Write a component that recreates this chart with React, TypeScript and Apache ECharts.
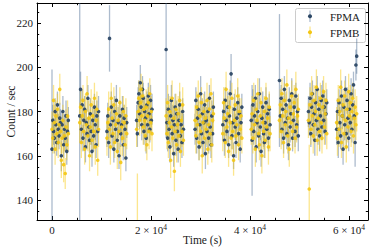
import React, { useEffect, useRef } from "react";
import * as echarts from "echarts";

// Orbit (good time interval) boundaries, seconds
const orbitStart = [0, 5600, 11100, 17100, 23050, 28900, 34500, 40250, 45950, 51800, 57500];
const orbitEnd = [3300, 9400, 15100, 20200, 26550, 32600, 38350, 44050, 49750, 55500, 61550];

// FPMA count rates per orbit
const fpmaRate = [
  [163, 176, 171, 168, 180, 174, 166, 183, 172, 169, 177, 175, 160, 174, 180, 165, 172, 168, 178, 162, 171, 176],
  [178, 190, 172, 183, 168, 176, 181, 164, 175, 170, 186, 173, 167, 179, 171, 162, 176, 169, 182, 174, 165, 178, 171, 180],
  [171, 178, 166, 213, 174, 182, 169, 176, 163, 180, 172, 185, 167, 175, 160, 178, 170, 174, 181, 165, 177, 172, 159, 175],
  [176, 170, 184, 188, 179, 193, 182, 174, 190, 186, 171, 180, 177, 168, 183, 174, 187, 179, 172, 185, 176, 181],
  [208, 175, 168, 181, 172, 164, 178, 185, 170, 176, 161, 174, 182, 167, 179, 171, 163, 176, 183, 169, 174, 166, 180, 172],
  [172, 185, 168, 177, 181, 164, 174, 188, 170, 179, 166, 175, 183, 161, 176, 171, 180, 168, 186, 173, 165, 178, 170, 182],
  [174, 180, 167, 185, 176, 171, 182, 165, 178, 188, 197, 169, 175, 160, 181, 173, 166, 177, 184, 170, 179, 163, 175, 182],
  [176, 167, 183, 171, 178, 186, 164, 175, 180, 169, 188, 173, 162, 177, 182, 170, 166, 175, 184, 172, 179, 168, 181, 174],
  [194, 178, 186, 172, 181, 168, 190, 175, 183, 170, 177, 165, 185, 173, 179, 188, 168, 176, 182, 171, 187, 174, 180, 169],
  [180, 175, 186, 170, 182, 188, 174, 179, 167, 184, 176, 190, 172, 181, 169, 178, 185, 173, 187, 176, 182, 171, 179, 184],
  [172, 180, 166, 184, 175, 169, 187, 178, 163, 182, 174, 190, 170, 185, 177, 168, 181, 175, 188, 172, 183, 192, 178, 166, 201, 205],
];
const fpmaErr = [
  [36, 7, 6, 7, 6, 7, 6, 6, 7, 6, 7, 6, 7, 6, 7, 6, 7, 6, 7, 6, 7, 6],
  [55, 8, 6, 7, 6, 7, 6, 7, 6, 7, 6, 7, 6, 7, 6, 7, 6, 7, 6, 7, 6, 7, 6, 7],
  [7, 6, 7, 15, 6, 7, 6, 7, 6, 7, 6, 7, 6, 7, 6, 7, 6, 7, 6, 7, 6, 7, 6, 7],
  [7, 6, 7, 6, 7, 8, 6, 7, 6, 7, 6, 7, 6, 7, 6, 7, 6, 7, 6, 7, 6, 7],
  [40, 7, 6, 7, 6, 7, 6, 7, 6, 7, 6, 7, 6, 7, 6, 7, 6, 7, 6, 7, 6, 7, 6, 7],
  [7, 6, 7, 6, 7, 6, 7, 8, 6, 7, 6, 7, 6, 7, 6, 7, 6, 7, 6, 7, 6, 7, 6, 7],
  [7, 6, 7, 6, 7, 6, 7, 6, 7, 6, 9, 6, 7, 6, 7, 6, 7, 6, 7, 6, 7, 6, 7, 6],
  [7, 25, 7, 6, 7, 6, 7, 6, 7, 6, 7, 6, 7, 6, 7, 6, 7, 6, 7, 6, 7, 6, 7, 6],
  [30, 7, 6, 7, 6, 7, 6, 7, 6, 7, 6, 7, 6, 7, 6, 7, 6, 7, 6, 7, 6, 7, 6, 7],
  [7, 6, 7, 6, 7, 6, 7, 6, 7, 6, 7, 6, 7, 6, 7, 6, 7, 6, 7, 6, 7, 6, 7, 6],
  [7, 6, 7, 6, 7, 6, 7, 6, 7, 6, 7, 6, 7, 6, 7, 6, 7, 6, 7, 6, 7, 6, 7, 11, 7, 8],
];

// FPMB count rates per orbit
const fpmbRate = [
  [172, 168, 185, 175, 163, 178, 170, 181, 166, 174, 190, 171, 158, 168, 176, 156, 169, 152, 173, 165, 178, 170],
  [175, 182, 166, 178, 185, 171, 163, 180, 174, 188, 169, 177, 160, 173, 183, 167, 178, 171, 186, 164, 176, 181, 158, 172],
  [168, 175, 181, 172, 164, 186, 177, 170, 183, 166, 174, 179, 162, 176, 171, 184, 157, 173, 168, 180, 175, 165, 178, 170],
  [172, 125, 180, 186, 176, 184, 190, 178, 187, 173, 181, 176, 169, 182, 165, 178, 184, 171, 188, 175, 180, 170],
  [178, 170, 184, 166, 175, 180, 158, 173, 186, 168, 177, 153, 171, 181, 165, 174, 179, 169, 185, 162, 176, 171, 183, 167],
  [176, 169, 182, 174, 187, 166, 178, 171, 184, 160, 175, 180, 168, 177, 172, 185, 163, 174, 181, 170, 188, 165, 176, 179],
  [170, 184, 177, 166, 190, 173, 179, 162, 182, 175, 168, 186, 171, 158, 176, 183, 169, 174, 187, 165, 180, 172, 178, 168],
  [172, 179, 168, 185, 174, 163, 181, 176, 188, 170, 165, 178, 184, 160, 175, 171, 180, 167, 186, 173, 177, 164, 182, 170],
  [176, 183, 171, 188, 178, 166, 185, 174, 180, 192, 169, 177, 163, 182, 175, 187, 171, 179, 184, 168, 190, 173, 178, 181],
  [176, 145, 183, 172, 188, 178, 169, 185, 174, 180, 191, 167, 177, 183, 171, 186, 175, 168, 182, 189, 173, 179, 185, 170],
  [175, 168, 185, 172, 180, 191, 166, 178, 183, 170, 187, 176, 164, 181, 173, 189, 178, 184, 171, 180, 186, 169, 177, 182, 174, 179],
];
const fpmbErr = [
  [8, 7, 7, 8, 7, 7, 8, 7, 7, 8, 7, 7, 8, 7, 7, 8, 7, 7, 8, 7, 7, 8],
  [9, 8, 7, 8, 7, 8, 7, 8, 7, 8, 7, 8, 7, 8, 7, 8, 7, 8, 7, 8, 7, 8, 7, 8],
  [8, 7, 8, 7, 8, 7, 8, 7, 8, 7, 8, 7, 8, 7, 8, 7, 8, 7, 8, 7, 8, 7, 8, 7],
  [8, 27, 7, 8, 7, 8, 7, 8, 7, 8, 7, 8, 7, 8, 7, 8, 7, 8, 7, 8, 7, 8],
  [8, 7, 8, 7, 8, 7, 8, 7, 8, 7, 8, 9, 8, 7, 8, 7, 8, 7, 8, 7, 8, 7, 8, 7],
  [7, 8, 7, 8, 7, 8, 7, 8, 7, 8, 7, 8, 7, 8, 7, 8, 7, 8, 7, 8, 7, 8, 7, 8],
  [8, 7, 8, 7, 8, 7, 8, 7, 8, 7, 8, 7, 8, 7, 8, 7, 8, 7, 8, 7, 8, 7, 8, 7],
  [7, 8, 7, 8, 7, 8, 7, 8, 7, 8, 7, 8, 7, 8, 7, 8, 7, 8, 7, 8, 7, 8, 7, 8],
  [8, 7, 8, 7, 8, 7, 8, 7, 8, 7, 8, 7, 8, 7, 8, 7, 8, 7, 8, 7, 8, 7, 8, 7],
  [8, 20, 8, 7, 8, 7, 8, 7, 8, 7, 8, 7, 8, 7, 8, 7, 8, 7, 8, 7, 8, 7, 8, 7],
  [7, 8, 7, 8, 7, 8, 7, 8, 7, 8, 7, 8, 7, 8, 7, 8, 7, 8, 7, 8, 7, 8, 7, 8, 7, 8],
];

const seriesNames = ["FPMA", "FPMB"];
const xMajorTicks = [0, 20000, 40000, 60000];
const xMinorTicks = [5000, 10000, 15000, 25000, 30000, 35000, 45000, 50000, 55000];
const yMajorTicks = [140, 160, 180, 200, 220];
const yMinorTicks = [135, 145, 150, 155, 165, 170, 175, 185, 190, 195, 205, 210, 215, 225];
const X_MIN = -3030;
const X_MAX = 63830;
const Y_MIN = 131;
const Y_MAX = 229;

const A_DOT = "#2d4866";
const A_BAR = "rgba(70,105,145,0.45)";
const B_DOT = "#f3c614";
const B_BAR = "rgba(250,205,30,0.5)";
const FONT = "'Liberation Serif', 'DejaVu Serif', serif";
const TXT = "#1a1a1a";

function build(rates: number[][], errs: number[][]) {
  const out: number[][] = [];
  for (let k = 0; k < rates.length; k++) {
    const n = rates[k].length;
    for (let i = 0; i < n; i++) {
      const t = orbitStart[k] + (i * (orbitEnd[k] - orbitStart[k])) / (n - 1);
      out.push([t, rates[k][i], errs[k][i]]);
    }
  }
  return out;
}

function barRender(color: string) {
  return (params: any, api: any) => {
    const t = api.value(0);
    const v = api.value(1);
    const e = api.value(2);
    const lo = api.coord([t, v - e]);
    const hi = api.coord([t, v + e]);
    return {
      type: "line",
      shape: { x1: lo[0], y1: lo[1], x2: hi[0], y2: hi[1] },
      style: { stroke: color, lineWidth: 1.3 },
    };
  };
}

function xLabel(v: number) {
  if (v === 0) return "{m|0}";
  return `{m|${v / 10000} × 10}{s|4}`;
}

export default function App() {
  const ref = useRef<HTMLDivElement>(null);
  useEffect(() => {
    if (!ref.current) return;
    const chart = echarts.init(ref.current, undefined, { renderer: "svg" });
    const dataA = build(fpmaRate, fpmaErr);
    const dataB = build(fpmbRate, fpmbErr);
    const line = { show: true, onZero: false, lineStyle: { color: "#000", width: 1 } };
    const noLine = { show: false, onZero: false };
    const rich = {
      m: { fontFamily: FONT, fontSize: 11, color: TXT, lineHeight: 14 },
      s: { fontFamily: FONT, fontSize: 7.5, color: TXT, lineHeight: 9, verticalAlign: "top" },
    };
    const xBase = { type: "value", min: X_MIN, max: X_MAX, splitLine: { show: false } };
    const yBase = { type: "value", min: Y_MIN, max: Y_MAX, splitLine: { show: false } };
    const option: any = {
      animation: false,
      grid: { left: 37, right: 6, top: 3, bottom: 31, outerBoundsMode: "none" },
      xAxis: [
        {
          ...xBase,
          position: "bottom",
          axisLine: line,
          axisTick: { show: true, inside: true, length: 4, customValues: xMajorTicks, lineStyle: { color: "#000" } },
          axisLabel: { show: true, customValues: xMajorTicks, margin: 3, formatter: xLabel, rich },
          name: "Time (s)",
          nameLocation: "middle",
          nameGap: 14,
          nameMoveOverlap: false,
          nameTextStyle: { fontFamily: FONT, fontSize: 11.5, color: TXT },
        },
        {
          ...xBase,
          position: "bottom",
          axisLine: noLine,
          axisTick: { show: true, inside: true, length: 2.2, customValues: xMinorTicks, lineStyle: { color: "#000" } },
          axisLabel: { show: false },
        },
        {
          ...xBase,
          position: "top",
          axisLine: line,
          axisTick: { show: true, inside: true, length: 4, customValues: xMajorTicks, lineStyle: { color: "#000" } },
          axisLabel: { show: false },
        },
        {
          ...xBase,
          position: "top",
          axisLine: noLine,
          axisTick: { show: true, inside: true, length: 2.2, customValues: xMinorTicks, lineStyle: { color: "#000" } },
          axisLabel: { show: false },
        },
      ],
      yAxis: [
        {
          ...yBase,
          position: "left",
          axisLine: line,
          axisTick: { show: true, inside: true, length: 4, customValues: yMajorTicks, lineStyle: { color: "#000" } },
          axisLabel: {
            show: true,
            customValues: yMajorTicks,
            margin: 4,
            fontFamily: FONT,
            fontSize: 11,
            color: TXT,
          },
          name: "Count / sec",
          nameLocation: "middle",
          nameGap: 20,
          nameMoveOverlap: false,
          nameTextStyle: { fontFamily: FONT, fontSize: 11.5, color: TXT },
        },
        {
          ...yBase,
          position: "left",
          axisLine: noLine,
          axisTick: { show: true, inside: true, length: 2.2, customValues: yMinorTicks, lineStyle: { color: "#000" } },
          axisLabel: { show: false },
        },
        {
          ...yBase,
          position: "right",
          axisLine: line,
          axisTick: { show: true, inside: true, length: 4, customValues: yMajorTicks, lineStyle: { color: "#000" } },
          axisLabel: { show: false },
        },
        {
          ...yBase,
          position: "right",
          axisLine: noLine,
          axisTick: { show: true, inside: true, length: 2.2, customValues: yMinorTicks, lineStyle: { color: "#000" } },
          axisLabel: { show: false },
        },
      ],
      series: [
        {
          name: seriesNames[0] + " err",
          type: "custom",
          renderItem: barRender(A_BAR),
          data: dataA,
          encode: { x: 0, y: 1 },
          clip: true,
          silent: true,
        },
        {
          name: seriesNames[0],
          type: "scatter",
          data: dataA.map((d) => [d[0], d[1]]),
          symbolSize: 3.6,
          itemStyle: { color: A_DOT, opacity: 0.95 },
          clip: true,
          silent: true,
        },
        {
          name: seriesNames[1] + " err",
          type: "custom",
          renderItem: barRender(B_BAR),
          data: dataB,
          encode: { x: 0, y: 1 },
          clip: true,
          silent: true,
        },
        {
          name: seriesNames[1],
          type: "scatter",
          data: dataB.map((d) => [d[0], d[1]]),
          symbolSize: 3.6,
          itemStyle: { color: B_DOT, opacity: 0.9 },
          clip: true,
          silent: true,
        },
      ],
      graphic: [
        {
          type: "group",
          z: 100,
          children: [
            {
              type: "rect",
              shape: { x: 295.5, y: 8.5, width: 70, height: 34, r: 2 },
              style: { fill: "rgba(255,255,255,0.85)", stroke: "#cccccc", lineWidth: 1 },
            },
            { type: "line", shape: { x1: 310, y1: 10.5, x2: 310, y2: 22 }, style: { stroke: A_BAR, lineWidth: 1.3 } },
            { type: "circle", shape: { cx: 310, cy: 16.3, r: 2 }, style: { fill: A_DOT } },
            {
              type: "text",
              x: 330,
              y: 16.7,
              style: { text: seriesNames[0], font: `11px ${FONT}`, fill: TXT, verticalAlign: "middle" },
            },
            { type: "line", shape: { x1: 310, y1: 26.5, x2: 310, y2: 38 }, style: { stroke: B_BAR, lineWidth: 1.3 } },
            { type: "circle", shape: { cx: 310, cy: 32.3, r: 2 }, style: { fill: B_DOT } },
            {
              type: "text",
              x: 330,
              y: 32.5,
              style: { text: seriesNames[1], font: `11px ${FONT}`, fill: TXT, verticalAlign: "middle" },
            },
          ],
        },
      ],
    };
    chart.setOption(option);
    return () => chart.dispose();
  }, []);
  return (
    <div
      ref={ref}
      style={{ position: "fixed", left: 0, top: 0, width: 374, height: 251, background: "#fff" }}
    />
  );
}
